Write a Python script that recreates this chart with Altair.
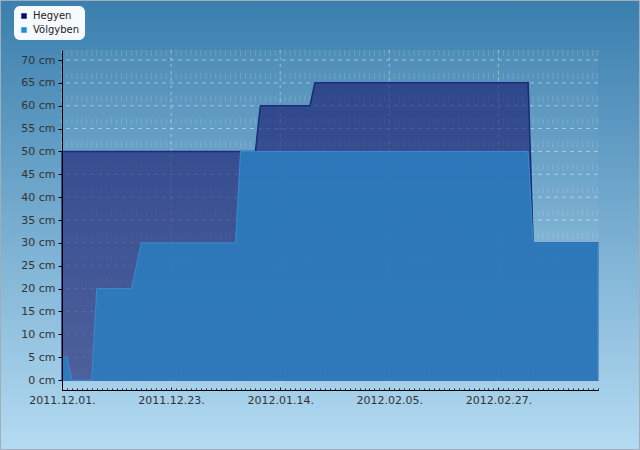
import altair as alt
import pandas as pd

# ---- data ----
hegyen_dates = ["2011-12-01", "2012-01-09", "2012-01-10", "2012-01-20",
                "2012-01-21", "2012-03-04", "2012-03-05", "2012-03-18"]
hegyen_cm = [50, 50, 60, 60, 65, 65, 30, 30]

volgyben_dates = ["2011-12-01", "2011-12-02", "2011-12-03", "2011-12-07",
                  "2011-12-08", "2011-12-15", "2011-12-16", "2011-12-17",
                  "2012-01-05", "2012-01-06", "2012-03-04", "2012-03-05",
                  "2012-03-18"]
volgyben_cm = [5, 5, 0, 0, 20, 20, 25, 30, 30, 50, 50, 30, 30]

series_names = ["Hegyen", "Völgyben"]
legend_colors = ["#0b0b6b", "#1b8fd9"]
x_tick_dates = ["2011-12-01", "2011-12-23", "2012-01-14", "2012-02-05", "2012-02-27"]
y_ticks = [0, 5, 10, 15, 20, 25, 30, 35, 40, 45, 50, 55, 60, 65, 70]
day_ticks = [d.strftime("%Y-%m-%d") for d in pd.date_range("2011-12-01", "2012-03-18", freq="D")]

df_h = pd.DataFrame({"date": hegyen_dates, "cm": hegyen_cm, "series": "Hegyen"})
df_v = pd.DataFrame({"date": volgyben_dates, "cm": volgyben_cm, "series": "Völgyben"})
df_all = pd.concat([df_h, df_v], ignore_index=True)
df_major = pd.DataFrame({"date": x_tick_dates})
df_days = pd.DataFrame({"date": day_ticks})
df_yt = pd.DataFrame({"cm": y_ticks})
one = pd.DataFrame({"k": [0]})

W, H = 536, 340
PAD = {"left": 62, "top": 50, "right": 42, "bottom": 60}


def utc(s):
    y, m, d = (int(p) for p in s.split("-"))
    return alt.DateTime(year=y, month=m, date=d, utc=True)


major_vals = [utc(s) for s in x_tick_dates]
x_scale = alt.Scale(type="utc", nice=False,
                    domain=[alt.DateTime(year=2011, month=12, date=1, utc=True),
                            alt.DateTime(year=2012, month=3, date=18, hours=2, utc=True)])
y_scale = alt.Scale(domain=[-2.1875, 72.1875], nice=False, zero=False)

y_axis = alt.Axis(values=y_ticks, labelExpr="datum.value + ' cm'", grid=False,
                  tickSize=4, tickColor="black", domainColor="black",
                  labelPadding=3, title=None, zindex=1)

grad = alt.LinearGradient(gradient="linear",
                          stops=[alt.GradientStop(color="#3a7fae", offset=0),
                                 alt.GradientStop(color="#b4dbf2", offset=1)],
                          x1=0, x2=0, y1=0, y2=1)

bg = alt.Chart(one).mark_rect(color=grad, stroke="#a3adb5", strokeWidth=1).encode(
    x=alt.value(-61.5), x2=alt.value(W + 41.5), y=alt.value(-49.5), y2=alt.value(H + 59.5))

overlay = alt.Chart(one).mark_rect(color="white", opacity=0.04).encode(
    x=alt.value(0), x2=alt.value(W), y=alt.value(0), y2=alt.value(H))

# grid lines (drawn beneath the areas)
hgrid = alt.Chart(df_yt).mark_rule(color="white", opacity=0.45, strokeDash=[4, 4]).encode(
    y=alt.Y("cm:Q", scale=y_scale, axis=y_axis))
vgrid_days = alt.Chart(df_days).mark_rule(color="white", opacity=0.16,
                                          strokeDash=[6, 16.857]).encode(
    x=alt.X("date:T", scale=x_scale, axis=None))
vgrid_major = alt.Chart(df_major).mark_rule(color="white", opacity=0.4,
                                            strokeDash=[3, 4]).encode(
    x=alt.X("date:T", scale=x_scale, axis=None))

dark = alt.Chart(df_h).mark_area(fill="#14166a", fillOpacity=0.6, stroke="#1b2a7a",
                                 strokeWidth=1.5).encode(
    x=alt.X("date:T", scale=x_scale,
            axis=alt.Axis(orient="bottom", values=major_vals,
                          labelExpr="utcFormat(datum.value, '%Y.%m.%d.')",
                          labelFlush=False, ticks=False, grid=False,
                          domainColor="black", domainWidth=1,
                          labelPadding=4, title=None, zindex=1)),
    y=alt.Y("cm:Q", scale=y_scale, axis=y_axis))

light = alt.Chart(df_v).mark_area(fill="#2b7dbe", fillOpacity=0.88, stroke="#3a8ad0",
                                  strokeWidth=1).encode(
    x=alt.X("date:T", scale=x_scale, axis=None),
    y=alt.Y("cm:Q", scale=y_scale, axis=y_axis))

legend_pts = alt.Chart(df_all).mark_point(filled=True, opacity=0, shape="square").encode(
    x=alt.X("date:T", scale=x_scale,
            axis=alt.Axis(orient="bottom", values=major_vals, ticks=True, tickSize=3,
                          offset=-3, tickColor="black", labels=False, domain=False,
                          grid=False, title=None, zindex=1)),
    y=alt.Y("cm:Q", scale=y_scale, axis=y_axis),
    color=alt.Color("series:N",
                    scale=alt.Scale(domain=series_names, range=legend_colors),
                    legend=alt.Legend(title=None, orient="none", legendX=-48, legendY=-44,
                                      fillColor="#f5faff", cornerRadius=6, padding=5,
                                      symbolType="square", symbolSize=30, symbolOpacity=1,
                                      symbolStrokeWidth=0, labelFontSize=10,
                                      labelFont="DejaVu Sans", labelColor="#222",
                                      rowPadding=4, labelOffset=4)))

minor_pts = alt.Chart(df_all).mark_point(opacity=0).encode(
    x=alt.X("date:T", scale=x_scale,
            axis=alt.Axis(orient="bottom", tickCount={"interval": "day", "step": 1},
                          tickSize=2, offset=-2, tickColor="#222", labels=False,
                          domain=False, grid=False, title=None, zindex=1)),
    y=alt.Y("cm:Q", scale=y_scale, axis=y_axis))

chart = alt.layer(bg, overlay, hgrid, vgrid_days, vgrid_major, dark, light,
                  legend_pts, minor_pts).resolve_axis(
    x="independent"
).properties(
    width=W, height=H, padding=PAD, autosize="none", background="#b4dbf2"
).configure_view(stroke=None).configure_axis(
    labelFont="DejaVu Sans", labelFontSize=11, labelColor="#333"
)

chart.save("out.html", embed_options={"renderer": "svg", "actions": False})
